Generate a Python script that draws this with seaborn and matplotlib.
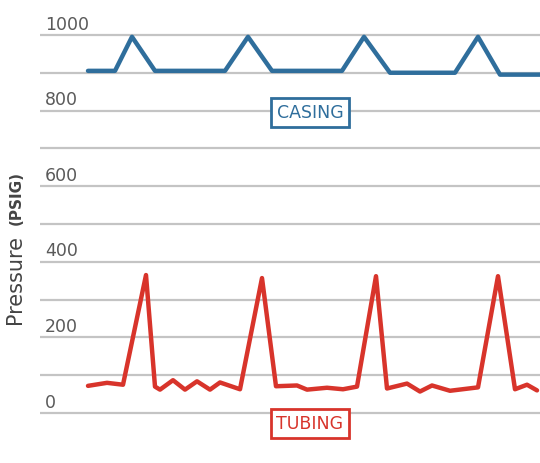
import matplotlib
matplotlib.use("Agg")
import matplotlib.pyplot as plt
import seaborn as sns
import pandas as pd

# time axis (arbitrary units) and pressures in PSIG
casing_t = [88, 115, 132, 155, 225, 248, 272, 342, 364, 390, 455, 478, 500, 540]
casing_p = [905, 905, 995, 905, 905, 995, 905, 905, 995, 900, 900, 995, 895, 895]

tubing_t = [88, 107, 123, 146, 155, 160, 173, 185, 197, 210, 220, 240, 262, 276,
            297, 307, 327, 343, 357, 376, 387, 407, 420, 432, 450, 478, 498, 515,
            527, 537]
tubing_p = [72, 80, 75, 365, 70, 62, 87, 62, 84, 62, 81, 63, 357, 71,
            73, 62, 67, 63, 70, 362, 65, 78, 57, 73, 59, 68, 362, 63,
            75, 60]

tick_vals = [0, 200, 400, 600, 800, 1000]
grid_vals = list(range(0, 1001, 100))

BLUE = "#2f6e9c"
RED = "#d8342b"

sns.set_style("white")
fig = plt.figure(figsize=(5.4, 4.64), dpi=100)
ax = fig.add_axes([40 / 540, 0, 500 / 540, 1])

for g in grid_vals:
    ax.axhline(g, color="#c4c4c4", lw=1.6, zorder=0)

cas = pd.DataFrame({"t": casing_t, "p": casing_p})
tub = pd.DataFrame({"t": tubing_t, "p": tubing_p})
sns.lineplot(data=cas, x="t", y="p", ax=ax, color=BLUE, lw=3.2)
sns.lineplot(data=tub, x="t", y="p", ax=ax, color=RED, lw=3.2)

ax.set_xlim(40, 540)
ax.set_ylim(-132, 1095)
ax.axis("off")

for v in tick_vals:
    ax.text(45, v + 30, str(v), fontsize=12.5, color="#5a5a5a",
            ha="left", va="center")

box = dict(boxstyle="square,pad=0.3", fc="white", lw=2)
ax.text(310, 795, "CASING", color=BLUE, fontsize=12.5, ha="center", va="center",
        bbox=dict(box, ec=BLUE))
ax.text(310, -27, "TUBING", color=RED, fontsize=12.5, ha="center", va="center",
        bbox=dict(box, ec=RED))

fig.text(15 / 540, 1 - 280 / 464, "Pressure", rotation=90, fontsize=15,
         color="#444444", ha="center", va="center")
fig.text(16 / 540, 1 - 198 / 464, "(PSIG)", rotation=90, fontsize=11,
         fontweight="bold", color="#444444", ha="center", va="center")

fig.savefig("out.png", dpi=100)
